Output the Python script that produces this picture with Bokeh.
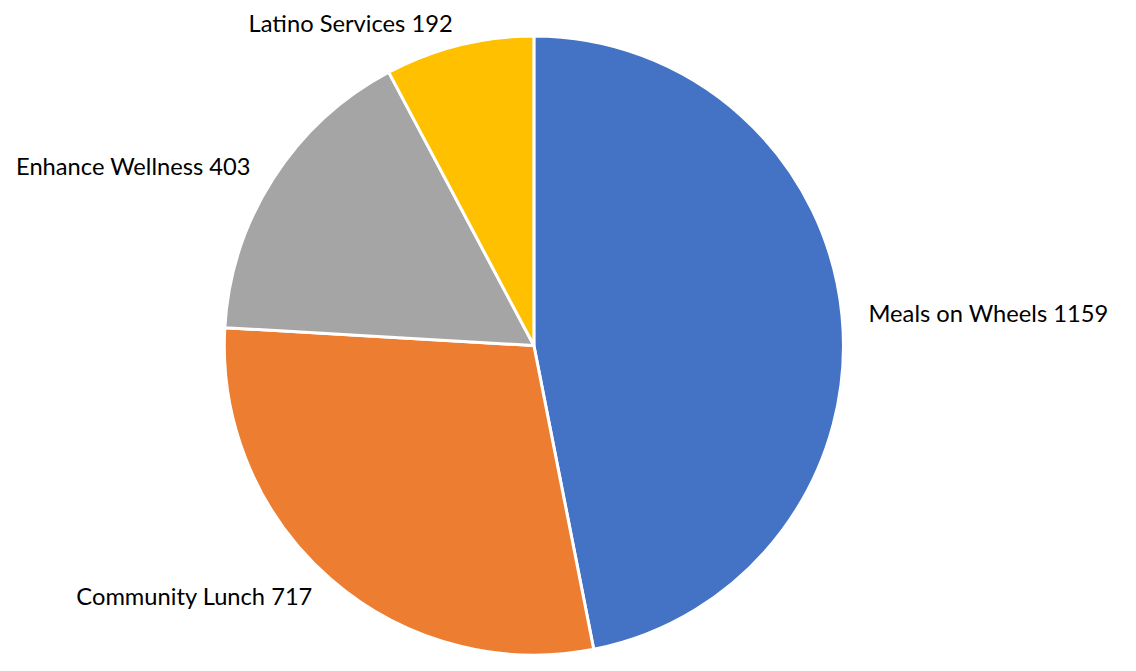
import math
from bokeh.plotting import figure
from bokeh.models import Range1d, ColumnDataSource
from bokeh.core.properties import value
from bokeh.embed import file_html
from bokeh.resources import INLINE

# ---- data ----
categories = ["Meals on Wheels", "Community Lunch", "Enhance Wellness", "Latino Services"]
counts = [1159, 717, 403, 192]
colors = ["#4472C4", "#ED7D31", "#A5A5A5", "#FFC000"]

# ---- layout (drawing space 1136 x 671 units, shown in a 1120 x 655 figure) ----
W, H = 1120, 655
XMAX, YMAX = 1136, 671
CX, CY = 541, YMAX - 353.5
RADIUS = 314
LABEL_R = 341

total = float(sum(counts))
starts, ends, lx, ly, aligns, texts = [], [], [], [], [], []
cum = 0.0
for cat, v in zip(categories, counts):
    f0 = cum / total
    cum += v
    f1 = cum / total
    # clockwise from 12 o'clock
    starts.append(math.pi / 2 - 2 * math.pi * f1)
    ends.append(math.pi / 2 - 2 * math.pi * f0)
    theta = 2 * math.pi * (f0 + f1) / 2
    s, c = math.sin(theta), math.cos(theta)
    lx.append(CX + LABEL_R * s)
    ly.append(CY + LABEL_R * c)
    aligns.append("left" if s > 0 else "right")
    texts.append(f"{cat} {v}")

src = ColumnDataSource(dict(start=starts, end=ends, color=colors))
lsrc = ColumnDataSource(dict(x=lx, y=ly, text=texts, align=aligns))

p = figure(width=W, height=H, output_backend="svg", toolbar_location=None,
           x_range=Range1d(0, XMAX), y_range=Range1d(0, YMAX), min_border=0,
           tools="")
p.axis.visible = False
p.grid.visible = False
p.outline_line_color = None
p.background_fill_color = "white"
p.border_fill_color = "white"

p.wedge(x=CX, y=CY, radius=RADIUS, start_angle="start", end_angle="end",
        direction="anticlock", fill_color="color", line_color="white",
        line_width=3, source=src)

p.text(x="x", y="y", text="text", text_align="align", text_baseline="middle",
       text_font=value("Lato"), text_font_size=value("23.7px"),
       text_color="#000000", source=lsrc)

open("out.html", "w").write(file_html(p, INLINE))
